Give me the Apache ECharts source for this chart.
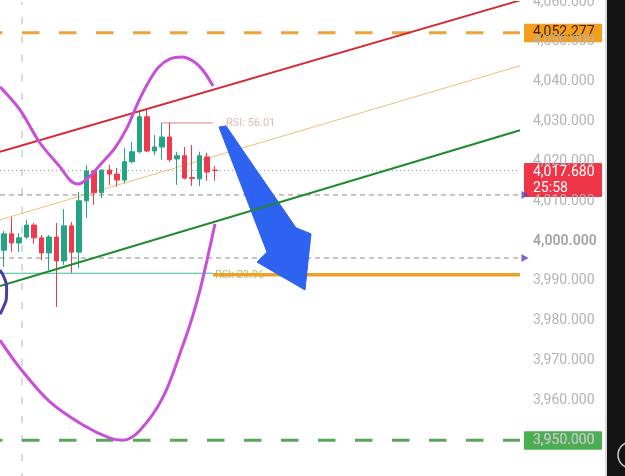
<!DOCTYPE html>
<html><head><meta charset="utf-8">
<script src="https://cdn.jsdelivr.net/npm/echarts@6/dist/echarts.min.js"></script>
<style>html,body{margin:0;padding:0;background:#fff;overflow:hidden}#c{width:625px;height:476px}</style>
</head><body><div id="c"></div>
<script>
// ---- data ----
const slotCount = 69;                       // visible bar slots (29 bars + empty future space)
const barLabels = Array.from({length: slotCount}, (_, i) => String(i + 1));
// [open, close, low, high]
const candles = [
  [3997.7,4001.8,3993.5,4002.5],[4001.8,3999.5,3997.2,4006.0],[3999.5,4000.8,3997.2,4002.0],
  [4001.0,4004.0,4000.5,4005.3],[4004.0,4000.8,3999.3,4004.5],[4000.8,3997.0,3995.2,4001.5],
  [3997.0,4001.0,3992.7,4001.5],[4001.0,3995.0,3983.4,4004.5],[3995.0,4003.8,3994.0,4008.0],
  [4003.8,3997.2,3992.0,4004.8],[3997.2,4010.1,3993.2,4012.3],[4010.1,4017.6,4005.8,4019.1],
  [4017.6,4012.1,4009.1,4017.8],[4012.1,4017.8,4010.8,4018.0],[4017.8,4016.8,4014.1,4019.1],
  [4016.8,4015.3,4013.6,4018.3],[4015.3,4019.9,4014.5,4023.4],[4019.9,4022.4,4019.5,4024.9],
  [4022.4,4031.2,4022.0,4032.9],[4031.2,4022.6,4022.3,4032.9],[4022.6,4023.6,4021.6,4026.6],
  [4023.6,4026.1,4020.4,4029.7],[4026.1,4020.4,4019.9,4029.7],[4020.6,4021.4,4014.1,4022.4],
  [4021.4,4015.8,4015.5,4023.6],[4015.9,4015.7,4013.8,4024.1],[4015.6,4021.4,4013.8,4022.4],
  [4021.1,4017.3,4015.1,4022.1],[4017.8,4017.7,4015.1,4018.8]
];
const yMin = 3940, yMax = 4060, yStep = 10;
const resistanceLevel = 4052.277;
const supportLevel = 3950.000;
const lastPrice = 4017.680;
const countdown = '25:58';
const grayLevels = [4011.56, 3995.73];
const verticalMarkX = 2.92;
// drawings: [slot position, price]
const redChannel = [[0, 4022.4], [69, 4060.4]];
const midChannel = [[0, 4005.3], [69, 4044.0]];
const greenChannel = [[0, 3988.7], [69, 4027.8]];
const rsiHighLine = [[21.5, 4029.65], [28.26, 4029.65]];
const rsiHighText = 'RSI: 56.01';
const rsiLowLine = [[0, 3991.9], [28.26, 3991.9]];
const rsiLowText = 'RSI: 29.96';
const targetLine = [[28.26, 3991.5], [69, 3991.5]];
const purpleTop = [[0,4038.7],[2.65,4032.9],[5.31,4024.6],[7.96,4018.6],[9.29,4015.3],[10.35,4014.3],
  [11.68,4015.8],[13.27,4019.1],[15.26,4023.4],[16.85,4028.4],[18.18,4034.2],[19.51,4039.2],
  [20.97,4043.5],[22.56,4045.7],[24.15,4046.2],[25.74,4045.0],[27.07,4042.5],[28.26,4038.9]];
const purpleBottom = [[0,3975.1],[2.65,3968.1],[6.63,3959.6],[11.01,3953.8],[14.6,3950.5],[16.32,3950.0],
  [18.58,3952.5],[21.63,3960.8],[24.28,3973.9],[25.61,3981.4],[26.54,3987.7],[27.47,3995.2],[28.53,4004.3]];
const circleArc = [[0,3992.7],[0.53,3990.9],[0.88,3988.2],[0.85,3985.7],[0.5,3983.6],[0,3981.6]];
const arrowShape = [[29.06,4028.6],[29.99,4028.9],[39.28,4003.3],[41.27,4001.8],[40.47,3987.7],[34.1,3994.7],[35.43,3997.2]];

const UP = '#22a584', DOWN = '#ee3a4c';
const chart = echarts.init(document.getElementById('c'), null, {renderer: 'canvas'});
const fmt = v => v.toLocaleString('en-US', {minimumFractionDigits: 3, maximumFractionDigits: 3});
function seg(name, data, color, width, type, z, extra) {
  return Object.assign({
    name, type: 'line', xAxisIndex: 1, yAxisIndex: 0, data, symbol: 'none', silent: true,
    lineStyle: {color, width, type: type || 'solid'}, z: z || 2, animation: false
  }, extra || {});
}
const option = {
  animation: false,
  backgroundColor: '#ffffff',
  grid: {left: 0, right: 105, top: 2, height: 478, containLabel: false, outerBoundsMode: 'none'},
  xAxis: [
    {type: 'category', data: barLabels, boundaryGap: true, show: false},
    {type: 'value', min: 0, max: slotCount, show: false}
  ],
  yAxis: {
    type: 'value', position: 'right', min: yMin, max: yMax, interval: yStep,
    axisLine: {show: false}, axisTick: {show: false}, splitLine: {show: false},
    axisLabel: {
      margin: 13, align: 'left', color: '#b4b4b4', fontSize: 14, fontFamily: 'Roboto', showMinLabel: false,
      formatter: v => v === 4000 ? '{b|' + fmt(v) + '}' : fmt(v),
      rich: {b: {fontWeight: 'bold', color: '#a8a8a8', fontSize: 14, fontFamily: 'Roboto'}}
    }
  },
  series: [
    seg('vline', [[verticalMarkX, yMin], [verticalMarkX, yMax]], '#cdcdcd', 1.5, [7, 12], 1),
    seg('gray1', [[0, grayLevels[0]], [slotCount, grayLevels[0]]], '#8c8c8c', 1, [5, 4], 1),
    seg('gray2', [[0, grayLevels[1]], [slotCount, grayLevels[1]]], '#8c8c8c', 1, [5, 4], 1),
    seg('last', [[0, lastPrice], [slotCount, lastPrice]], '#9a9a9a', 1, [1, 3], 1),
    seg('res', [[0, resistanceLevel], [slotCount, resistanceLevel]], '#e9a53a', 3, [17.5, 19.5], 1, {lineStyle: {color: '#e9a53a', width: 3, type: [17.5, 19.5], dashOffset: 15}}),
    seg('sup', [[0, supportLevel], [slotCount, supportLevel]], '#5aa75c', 3, [17.5, 19.5], 1, {lineStyle: {color: '#5aa75c', width: 3, type: [17.5, 19.5], dashOffset: 15}}),
    seg('rsiLow', rsiLowLine, '#3cbf8e', 1.2, 'solid', 2, {endLabel: {show: true, formatter: rsiLowText, color: '#a8c67a', fontSize: 11, fontFamily: 'Roboto', distance: 2, offset: [0, 2]}}),
    seg('target', targetLine, '#eaa226', 3.5, 'solid', 3),
    seg('rsiHigh', rsiHighLine, '#e99a9a', 1.2, 'solid', 2, {endLabel: {show: true, formatter: rsiHighText, color: '#e2b9b9', fontSize: 11, fontFamily: 'Roboto', distance: 13}}),
    seg('mid', midChannel, '#ecc07a', 1, 'solid', 2),
    {
      name: 'price', type: 'candlestick', xAxisIndex: 0, yAxisIndex: 0, data: candles, barWidth: 5, z: 4,
      itemStyle: {color: UP, color0: DOWN, borderColor: UP, borderColor0: DOWN, borderWidth: 1}
    },
    seg('red', redChannel, '#d42a34', 2, 'solid', 5),
    {
      name: 'arrow', type: 'custom', xAxisIndex: 1, yAxisIndex: 0, data: [[0, 0]], z: 6, silent: true,
      renderItem: (params, api) => ({
        type: 'polygon',
        shape: {points: arrowShape.map(p => api.coord(p))},
        style: {fill: '#2d63f0', stroke: '#2d63f0', lineWidth: 1, lineJoin: 'round'}
      })
    },
    seg('green', greenChannel, '#1f8a2c', 2, 'solid', 7),
    seg('purpleTop', purpleTop, '#c84fd8', 3, 'solid', 8, {smooth: 0.35}),
    seg('purpleBottom', purpleBottom, '#c84fd8', 3, 'solid', 8, {smooth: 0.35}),
    seg('circle', circleArc, '#4c3aa6', 3, 'solid', 8, {smooth: 0.5}),
    {
      name: 'markers', type: 'scatter', xAxisIndex: 1, yAxisIndex: 0, clip: false, silent: true, z: 9,
      data: grayLevels.map(v => [slotCount, v]), symbol: 'triangle', symbolRotate: -90, symbolSize: [8, 7],
      symbolOffset: [5, 0], itemStyle: {color: '#5a3fc2'}
    }
  ]
};
chart.setOption(option);

function tag(value, lines, bg, fg) {
  const py = chart.convertToPixel({yAxisIndex: 0}, value);
  const two = lines.length > 1;
  const top = two ? py - 7.5 : py - 9;
  const h = two ? 34 : 18.5;
  const children = [{type: 'rect', shape: {x: 524, y: top, width: 78, height: h, r: 1}, style: {fill: bg}}];
  lines.forEach((t, i) => children.push({
    type: 'text', style: {x: 533, y: top + 9 + i * 16, text: t, fill: fg, font: '14px Roboto', textVerticalAlign: 'middle'}
  }));
  return {type: 'group', z: 100, children};
}
chart.setOption({
  graphic: [
    {type: 'rect', z: 100, shape: {x: 605, y: 0, width: 2, height: 476}, style: {fill: '#d9d9d9'}},
    {type: 'rect', z: 100, shape: {x: 607, y: 0, width: 18, height: 476}, style: {fill: '#131313'}},
    {type: 'circle', z: 101, shape: {cx: 631, cy: 455, r: 13}, style: {fill: 'none', stroke: '#d0d0d0', lineWidth: 1.5}},
    tag(resistanceLevel, [fmt(resistanceLevel)], '#f59d1c', '#3b2500'),
    tag(lastPrice, [fmt(lastPrice), countdown], '#ef3649', '#ffffff'),
    tag(supportLevel, [fmt(supportLevel)], '#4cae52', '#ffffff')
  ]
});
</script>
</body></html>
